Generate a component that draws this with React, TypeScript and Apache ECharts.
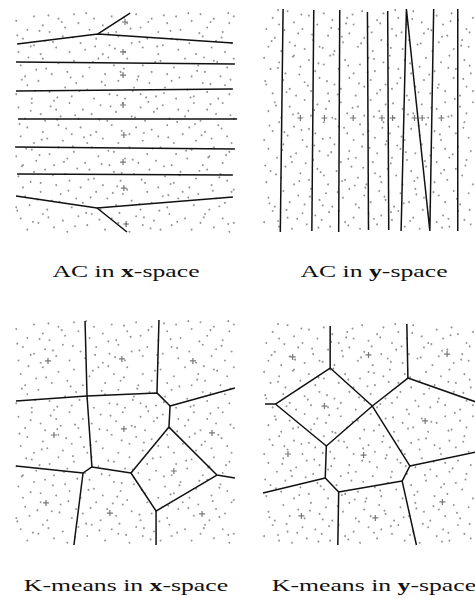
import React, { useEffect, useRef } from "react";
import * as echarts from "echarts";

// ---- data (panel units 0..100, y up) ----
const X_SPACE_DOTS: number[] = [
  3,7, 6,2, 11,5, 13,9, 18,3, 22,6, 24,1, 29,8, 33,4, 35,9, 41,2, 44,7, 47,5, 52,1, 55,8, 58,4, 63,6, 66,2, 70,9, 71,4, 77,7, 80,2, 84,5, 86,9, 90,3, 94,7, 97,1, 99,5,
  1,12, 5,17, 7,13, 12,19, 15,11, 17,15, 21,18, 26,12, 28,16, 31,14, 37,19, 39,11, 42,16, 46,13, 49,18, 53,15, 57,11, 60,19, 62,14, 67,17, 69,12, 74,16, 76,19, 81,13, 83,18, 88,11, 91,16, 95,14, 98,19,
  2,26, 4,21, 9,28, 12,23, 14,29, 19,22, 23,27, 25,24, 30,21, 34,29, 36,25, 40,22, 45,28, 48,24, 51,20, 54,27, 59,23, 61,29, 65,21, 68,26, 72,23, 75,28, 79,21, 82,25, 87,29, 89,22, 93,27, 96,24, 99,20,
  1,35, 4,31, 8,38, 10,33, 16,36, 18,31, 20,39, 24,34, 27,37, 32,32, 35,39, 38,35, 43,31, 45,37, 50,34, 52,39, 56,32, 60,36, 64,33, 66,39, 71,31, 73,36, 78,34, 80,38, 85,31, 88,35, 90,39, 94,32, 97,37,
  3,44, 6,48, 9,41, 13,46, 15,43, 20,49, 22,42, 26,45, 30,48, 33,41, 37,46, 40,43, 44,49, 47,41, 52,45, 55,48, 58,42, 62,47, 65,44, 69,49, 72,41, 76,45, 79,48, 82,42, 86,46, 89,43, 92,49, 96,44, 98,41,
  2,57, 5,52, 8,59, 12,54, 14,51, 19,56, 21,53, 25,59, 29,52, 31,56, 35,54, 39,58, 42,51, 46,55, 49,59, 53,53, 57,57, 59,51, 63,55, 67,58, 70,52, 74,56, 77,53, 81,59, 84,51, 87,56, 91,54, 94,59, 99,52,
  1,63, 6,67, 8,61, 11,69, 16,64, 18,60, 23,66, 26,62, 28,68, 33,65, 36,61, 41,67, 43,63, 47,69, 50,61, 54,66, 57,63, 61,68, 64,62, 68,66, 71,69, 73,61, 78,65, 81,62, 85,68, 87,64, 92,61, 95,67, 97,63,
  3,76, 5,71, 10,74, 13,79, 17,72, 20,77, 24,73, 27,78, 31,71, 34,75, 38,79, 41,72, 45,76, 48,73, 51,79, 56,71, 58,76, 62,73, 66,78, 69,72, 72,75, 77,79, 80,71, 83,76, 86,73, 90,78, 93,71, 96,75, 99,79,
  2,82, 4,88, 9,85, 12,81, 14,87, 19,84, 22,89, 25,82, 30,86, 32,83, 37,88, 40,81, 43,85, 47,89, 50,82, 53,86, 58,84, 60,88, 65,81, 67,85, 71,88, 74,83, 79,86, 82,81, 85,89, 89,84, 91,87, 95,82, 98,86,
  1,96, 6,92, 9,98, 13,94, 16,91, 20,97, 23,93, 27,99, 29,95, 34,92, 36,97, 40,94, 44,98, 46,91, 51,95, 55,99, 57,93, 62,97, 65,91, 69,95, 73,98, 75,92, 80,96, 84,99, 87,93, 90,97, 94,91, 97,95, 99,98,
];

const X_SPACE_DOTS_EXTRA: number[] = [
  1.5,10.5, 8.5,5.5, 15.5,7.5, 20.5,14.5, 27.5,3.5, 34.5,16.5, 38.5,6.5, 44.5,18.5, 50.5,4.5, 56.5,13.5, 61.5,2.5, 65.5,10.5, 73.5,5.5, 78.5,16.5, 85.5,7.5, 92.5,12.5, 96.5,4.5, 10.5,15.5, 24.5,19.5, 47.5,9.5, 69.5,17.5, 89.5,19.5, 32.5,9.5, 58.5,7.5,
  3.5,30.5, 7.5,23.5, 11.5,35.5, 17.5,26.5, 22.5,32.5, 28.5,29.5, 33.5,24.5, 39.5,31.5, 42.5,37.5, 48.5,27.5, 53.5,33.5, 57.5,24.5, 62.5,38.5, 67.5,30.5, 74.5,26.5, 77.5,37.5, 83.5,28.5, 87.5,34.5, 92.5,25.5, 95.5,35.5, 5.5,38.5, 26.5,39.5, 46.5,21.5, 70.5,22.5,
  2.5,49.5, 7.5,55.5, 12.5,42.5, 16.5,57.5, 23.5,47.5, 27.5,53.5, 34.5,44.5, 38.5,51.5, 43.5,57.5, 48.5,46.5, 54.5,52.5, 58.5,45.5, 64.5,56.5, 69.5,43.5, 73.5,50.5, 78.5,55.5, 84.5,44.5, 88.5,58.5, 93.5,47.5, 97.5,53.5, 19.5,51.5, 31.5,43.5, 60.5,59.5, 81.5,49.5,
  3.5,69.5, 9.5,64.5, 14.5,74.5, 19.5,61.5, 25.5,70.5, 29.5,64.5, 35.5,77.5, 39.5,68.5, 46.5,62.5, 49.5,74.5, 55.5,69.5, 59.5,61.5, 63.5,77.5, 67.5,63.5, 74.5,70.5, 79.5,61.5, 82.5,73.5, 88.5,67.5, 91.5,77.5, 97.5,69.5, 6.5,79.5, 42.5,79.5, 53.5,64.5, 85.5,79.5,
  1.5,89.5, 7.5,84.5, 11.5,91.5, 17.5,86.5, 21.5,95.5, 26.5,88.5, 32.5,99.5, 36.5,84.5, 42.5,90.5, 45.5,83.5, 52.5,92.5, 56.5,86.5, 60.5,95.5, 64.5,84.5, 70.5,91.5, 73.5,87.5, 78.5,99.5, 83.5,90.5, 88.5,95.5, 93.5,88.5, 96.5,99.5, 15.5,98.5, 49.5,97.5, 67.5,98.5,
];

const Y_SPACE_DOTS: number[] = [
  1,4, 5,9, 8,2, 12,6, 14,1, 19,8, 21,3, 25,7, 28,5, 32,2, 36,9, 39,4, 43,6, 46,1, 50,8, 54,3, 56,7, 61,5, 64,9, 67,2, 71,6, 74,1, 78,8, 82,4, 85,7, 88,2, 92,9, 95,5, 98,3,
  3,15, 6,11, 10,18, 13,13, 17,16, 20,12, 23,19, 27,14, 30,17, 33,11, 38,15, 41,19, 44,12, 48,16, 51,13, 55,18, 58,14, 62,11, 65,17, 69,13, 72,19, 76,15, 79,11, 83,16, 86,13, 90,18, 93,12, 97,17,
  2,22, 4,27, 9,24, 11,29, 15,21, 18,26, 22,23, 26,28, 29,25, 31,21, 35,27, 39,23, 42,29, 45,24, 49,21, 53,26, 56,22, 59,28, 63,25, 66,21, 70,27, 73,24, 77,29, 81,22, 84,26, 87,23, 91,28, 94,25, 99,21,
  3,37, 7,33, 10,39, 14,31, 16,35, 21,38, 24,32, 27,36, 31,34, 34,39, 37,31, 41,36, 44,33, 47,38, 52,31, 54,35, 58,39, 61,33, 65,37, 68,32, 72,35, 75,39, 79,34, 82,31, 86,37, 88,33, 92,38, 96,32, 98,36,
  1,41, 5,45, 8,49, 12,43, 15,47, 19,41, 22,46, 25,44, 29,49, 32,42, 36,47, 40,44, 43,41, 46,48, 50,45, 53,42, 57,49, 60,44, 64,47, 67,41, 70,46, 74,43, 77,48, 81,45, 84,41, 88,47, 91,44, 95,49, 97,42,
  3,54, 6,58, 9,51, 13,56, 17,53, 20,59, 23,52, 26,57, 30,55, 33,51, 37,58, 40,53, 45,56, 48,52, 51,59, 55,54, 58,57, 62,51, 66,55, 69,59, 71,53, 75,57, 78,51, 82,55, 86,58, 89,52, 93,56, 96,53, 99,58,
  2,66, 5,62, 10,68, 13,64, 16,61, 20,67, 23,63, 27,69, 31,62, 34,66, 37,64, 41,69, 44,61, 48,65, 51,68, 54,62, 58,66, 61,64, 65,69, 68,61, 72,65, 76,68, 79,62, 83,66, 86,63, 90,69, 93,61, 96,65, 99,63,
  1,78, 4,73, 8,76, 11,71, 15,79, 18,74, 22,77, 25,72, 29,75, 32,79, 36,73, 39,77, 43,71, 46,75, 50,78, 53,72, 57,76, 60,79, 64,73, 67,77, 70,71, 74,74, 77,78, 81,72, 84,76, 88,79, 91,73, 95,77, 98,71,
  3,83, 6,87, 9,81, 13,85, 17,89, 20,82, 24,86, 27,83, 31,88, 34,81, 38,85, 41,89, 45,83, 48,87, 52,81, 56,86, 59,84, 63,88, 66,82, 69,86, 73,84, 76,89, 80,81, 83,85, 87,88, 90,82, 94,86, 97,83,
  2,91, 5,96, 8,93, 12,99, 15,94, 19,91, 22,97, 26,93, 29,98, 33,95, 36,91, 40,96, 43,93, 47,99, 50,92, 54,95, 57,98, 61,91, 64,96, 68,93, 71,99, 75,94, 78,91, 82,97, 85,93, 89,98, 92,95, 96,91, 99,96,
];

const Y_SPACE_DOTS_EXTRA: number[] = [
  3.5,12.5, 7.5,4.5, 16.5,5.5, 22.5,15.5, 26.5,1.5, 31.5,8.5, 35.5,17.5, 40.5,2.5, 45.5,10.5, 52.5,5.5, 57.5,15.5, 60.5,8.5, 66.5,12.5, 69.5,4.5, 75.5,9.5, 80.5,17.5, 87.5,5.5, 91.5,14.5, 97.5,9.5, 11.5,9.5, 28.5,11.5, 48.5,19.5, 72.5,16.5, 84.5,1.5,
  1.5,29.5, 6.5,25.5, 13.5,33.5, 17.5,22.5, 20.5,30.5, 27.5,26.5, 32.5,35.5, 37.5,22.5, 40.5,32.5, 47.5,28.5, 50.5,37.5, 55.5,24.5, 60.5,30.5, 67.5,35.5, 71.5,22.5, 76.5,31.5, 80.5,37.5, 85.5,27.5, 89.5,34.5, 95.5,29.5, 9.5,36.5, 24.5,38.5, 43.5,20.5, 63.5,38.5,
  3.5,47.5, 10.5,44.5, 14.5,52.5, 18.5,45.5, 24.5,54.5, 28.5,41.5, 34.5,50.5, 38.5,46.5, 42.5,55.5, 47.5,43.5, 52.5,51.5, 56.5,46.5, 61.5,57.5, 65.5,42.5, 68.5,52.5, 73.5,47.5, 79.5,55.5, 83.5,43.5, 87.5,51.5, 94.5,46.5, 6.5,56.5, 31.5,58.5, 58.5,40.5, 90.5,59.5,
  1.5,67.5, 7.5,73.5, 11.5,62.5, 17.5,70.5, 21.5,65.5, 26.5,75.5, 30.5,67.5, 35.5,61.5, 40.5,74.5, 45.5,66.5, 49.5,71.5, 55.5,63.5, 59.5,73.5, 63.5,66.5, 69.5,75.5, 73.5,62.5, 78.5,70.5, 82.5,64.5, 87.5,73.5, 94.5,68.5, 14.5,78.5, 33.5,79.5, 52.5,77.5, 97.5,74.5,
  4.5,85.5, 10.5,90.5, 15.5,83.5, 18.5,97.5, 23.5,88.5, 28.5,82.5, 32.5,91.5, 37.5,87.5, 42.5,97.5, 46.5,84.5, 51.5,89.5, 55.5,93.5, 60.5,82.5, 65.5,89.5, 70.5,95.5, 74.5,84.5, 79.5,90.5, 84.5,87.5, 88.5,94.5, 93.5,83.5, 97.5,89.5, 7.5,99.5, 39.5,93.5, 62.5,99.5,
];

const AC_X_CENTERS = [[50, 95.5], [49.1, 82], [49.1, 71.6], [49.1, 58.1], [49.5, 44.6], [49.1, 32.4], [49.5, 20.7], [50.5, 4.5]];
const AC_Y_CENTERS = [[18, 50.9], [29.3, 50.9], [42.8, 50.9], [56.3, 50.9], [61.3, 50.9], [71.6, 50.9], [75.2, 50.9], [84.2, 50.9]];
const KM_X_CENTERS = [[48.6, 82.7], [15.3, 81.8], [80.6, 81.8], [18, 48.9], [49.5, 51.6], [89.2, 49.8], [72, 32.9], [14.4, 18.7], [43.2, 14.2], [84.7, 13.8]];
const KM_Y_CENTERS = [[14.4, 84.7], [50, 85.6], [86.9, 86], [29.3, 62.6], [76.6, 55.9], [47.7, 40.5], [12.2, 41], [18.5, 13.1], [53.2, 12.2], [84.7, 19.4]];

const AC_X_BOUNDARIES = [
  [[1.4, 85.6], [37.8, 90.1], [98.6, 86]],
  [[37.8, 90.1], [52.3, 99.5]],
  [[0.9, 77.5], [99.5, 76.6]],
  [[0.9, 64.4], [98.6, 65.3]],
  [[1.8, 51.8], [100.5, 51.8]],
  [[0.5, 39.2], [99.5, 38.3]],
  [[1.4, 27], [98.6, 26.6]],
  [[0.9, 17.1], [37.4, 11.7], [98.6, 16.7]],
  [[37.4, 11.7], [50.9, 0.9]],
];

const AC_Y_BOUNDARIES = [
  [[9.9, 100], [8.6, -0.5]],
  [[24.3, 99.5], [23.4, 0]],
  [[36.5, 99.5], [36, -0.5]],
  [[49.5, 98.6], [50, 0.5]],
  [[59, 99.1], [59.5, 0.5]],
  [[65.3, 0], [67.8, 100], [78.8, 0], [80.6, 100]],
  [[91.9, 100], [91.9, 0]],
];

const KM_X_BOUNDARIES = [
  [[0.9, 64], [32.9, 66.2], [64.4, 67.6], [70.3, 61.8], [99.5, 69.8]],
  [[32, 99.6], [32.9, 66.2], [35.1, 34.7], [31.1, 32], [0.9, 35.1]],
  [[31.1, 32], [27, 0]],
  [[65.3, 100], [64.4, 67.6]],
  [[70.3, 61.8], [69.8, 52.4], [91.4, 31.1], [99.5, 29.8]],
  [[35.1, 34.7], [52.7, 32], [69.8, 52.4]],
  [[52.7, 32], [64, 15.1], [91.4, 31.1]],
  [[64, 15.1], [64, 0]],
];

const KM_Y_BOUNDARIES = [
  [[32, 98.6], [32, 79.7], [51.8, 62.6], [68.5, 75.2], [100.5, 64.4]],
  [[1.4, 63.5], [6.3, 63.5], [32, 79.7]],
  [[6.3, 63.5], [30.2, 44.6], [51.8, 62.6]],
  [[68, 99.5], [68.5, 75.2]],
  [[51.8, 62.6], [69.4, 35.6], [100.5, 41.9]],
  [[69.4, 35.6], [65.8, 28.8], [72.5, 0]],
  [[30.2, 44.6], [29.7, 30.2], [0.5, 23.4]],
  [[29.7, 30.2], [36, 23.9], [65.8, 28.8]],
  [[36, 23.9], [35.6, 0]],
];

const TITLES = ["AC in {b|x}-space", "AC in {b|y}-space", "K-means in {b|x}-space", "K-means in {b|y}-space"];

// ---- layout ----
const GRIDS = [
  { left: 14, top: 12, width: 222, height: 222 },
  { left: 262, top: 9, width: 222, height: 222 },
  { left: 14, top: 320, width: 222, height: 225 },
  { left: 262, top: 323, width: 222, height: 222 },
];
const TITLE_POS = [[126, 271], [374, 271], [126, 585], [374, 585]];

const toPairs = (flat: number[]) => {
  const out: number[][] = [];
  for (let i = 0; i < flat.length; i += 2) out.push([flat[i], flat[i + 1]]);
  return out;
};

const PLUS = "path://M4,0H6V4H10V6H6V10H4V6H0V4H4Z";

export default function App() {
  const ref = useRef<HTMLDivElement>(null);
  useEffect(() => {
    if (!ref.current) return;
    const chart = echarts.init(ref.current, undefined, { renderer: "svg" });
    const xDots = toPairs(X_SPACE_DOTS).concat(toPairs(X_SPACE_DOTS_EXTRA));
    const yDots = toPairs(Y_SPACE_DOTS).concat(toPairs(Y_SPACE_DOTS_EXTRA));
    const panels = [
      { dots: xDots, centers: AC_X_CENTERS, lines: AC_X_BOUNDARIES },
      { dots: yDots, centers: AC_Y_CENTERS, lines: AC_Y_BOUNDARIES },
      { dots: xDots, centers: KM_X_CENTERS, lines: KM_X_BOUNDARIES },
      { dots: yDots, centers: KM_Y_CENTERS, lines: KM_Y_BOUNDARIES },
    ];
    const series: any[] = [];
    panels.forEach((p, i) => {
      series.push({
        type: "scatter",
        xAxisIndex: i,
        yAxisIndex: i,
        data: p.dots,
        symbol: "circle",
        symbolSize: 1.9,
        itemStyle: { color: "#7a7a7a" },
        silent: true,
        z: 1,
      });
      series.push({
        type: "scatter",
        xAxisIndex: i,
        yAxisIndex: i,
        data: p.centers,
        symbol: PLUS,
        symbolSize: 6,
        itemStyle: { color: "#555" },
        silent: true,
        z: 2,
      });
      p.lines.forEach((ln) => {
        series.push({
          type: "line",
          xAxisIndex: i,
          yAxisIndex: i,
          data: ln,
          symbol: "none",
          showSymbol: false,
          clip: false,
          silent: true,
          lineStyle: { color: "#111", width: 1.5 },
          z: 3,
        });
      });
    });
    const graphic = TITLES.map((t, i) => ({
      type: "text",
      x: TITLE_POS[i][0],
      y: TITLE_POS[i][1],
      scaleX: 1.47,
      style: {
        text: t,
        fontFamily: "Liberation Serif",
        fontSize: 17.5,
        fill: "#111",
        textAlign: "center",
        align: "center",
        textVerticalAlign: "middle",
        verticalAlign: "middle",
        rich: {
          b: { fontFamily: "Liberation Serif", fontSize: 17.5, fontWeight: "bold", fill: "#111" },
        },
      },
    }));
    chart.setOption({
      animation: false,
      backgroundColor: "#fff",
      grid: GRIDS,
      xAxis: GRIDS.map((_, i) => ({ type: "value", gridIndex: i, min: 0, max: 100, show: false })),
      yAxis: GRIDS.map((_, i) => ({ type: "value", gridIndex: i, min: 0, max: 100, show: false })),
      series,
      graphic,
    });
    return () => chart.dispose();
  }, []);
  return (
    <div
      ref={ref}
      style={{ position: "absolute", left: 0, top: 0, width: 475, height: 599 }}
    />
  );
}
